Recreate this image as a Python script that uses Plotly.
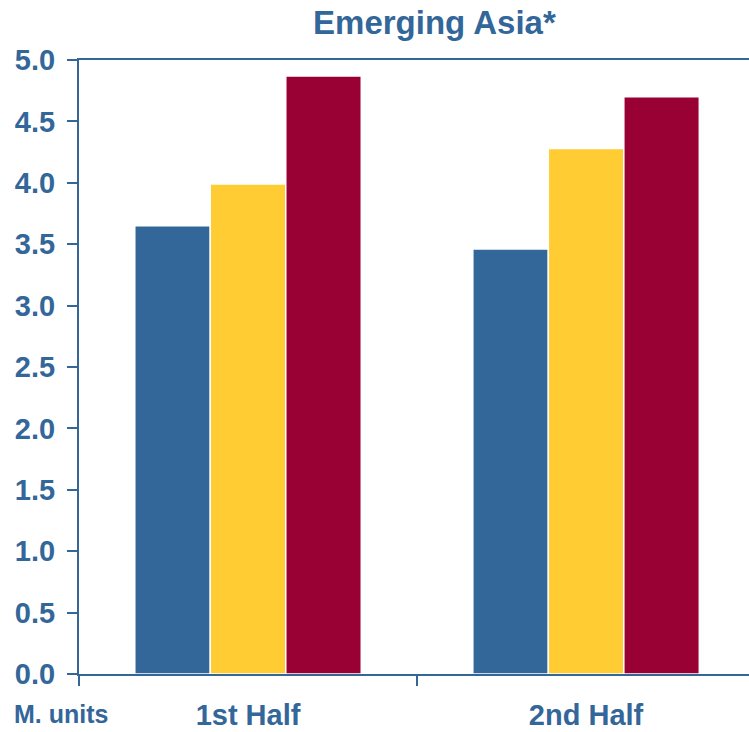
import plotly.graph_objects as go

# Half-year figures, million units
categories = ["1st Half", "2nd Half"]
series_a = [3.65, 3.46]
series_b = [3.99, 4.28]
series_c = [4.87, 4.70]

colors = ["#336699", "#FFCC33", "#990033"]
ink = "#336699"
font_family = "Liberation Sans, Arial, sans-serif"

x_pos = list(range(len(categories)))

fig = go.Figure()
for vals, col in zip([series_a, series_b, series_c], colors):
    fig.add_trace(go.Bar(
        x=x_pos, y=vals,
        marker=dict(color=col, line=dict(color="white", width=1.5)),
        showlegend=False, hoverinfo="y",
    ))

fig.update_layout(
    width=749, height=732,
    margin=dict(l=79, r=0, t=60, b=58, autoexpand=False),
    paper_bgcolor="white", plot_bgcolor="white",
    barmode="group", bargap=0.33, bargroupgap=0,
    font=dict(family=font_family, color=ink),
    title=dict(
        text="<b>Emerging Asia*</b>",
        font=dict(size=33, color=ink, family=font_family),
        x=0.58, xanchor="center", y=0.97, yanchor="middle",
    ),
    xaxis=dict(
        range=[-0.5, 1.482], automargin=False,
        tickmode="array", tickvals=x_pos,
        ticktext=[f"<b>{c}</b>" for c in categories],
        ticks="", ticklabelstandoff=14,
        tickfont=dict(size=29, color=ink, family=font_family),
        showline=True, linecolor=ink, linewidth=2, mirror=True,
        showgrid=False, zeroline=False,
        minor=dict(tick0=-0.5, dtick=1, ticks="outside", ticklen=10,
                   tickwidth=2, tickcolor=ink, showgrid=False),
    ),
    yaxis=dict(
        range=[0, 5], tickmode="linear", tick0=0, dtick=0.5,
        tickformat=".1f", automargin=False,
        ticks="outside", ticklen=10, tickwidth=2, tickcolor=ink,
        ticklabelstandoff=6,
        tickfont=dict(size=29, color=ink, family=font_family),
        showline=True, linecolor=ink, linewidth=2,
        showgrid=False, zeroline=False,
    ),
    annotations=[dict(
        text="<b>M. units</b>", xref="paper", yref="paper",
        x=-0.1, xanchor="left", y=-0.065, yanchor="middle",
        showarrow=False, font=dict(size=25, color=ink, family=font_family),
    )],
)
fig.update_yaxes(tickprefix="<b>", ticksuffix="</b>")

fig.write_html("out.html")
